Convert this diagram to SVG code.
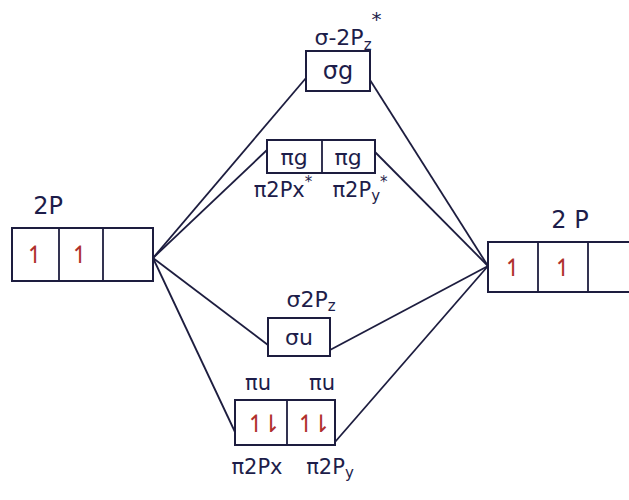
<svg xmlns="http://www.w3.org/2000/svg" width="629" height="500" viewBox="0 0 629 500">
<style>
.box{fill:none;stroke:#1d1d3f;stroke-width:2}
.ln{stroke:#1d1d3f;stroke-width:1.8;fill:none}
.t{font-family:"DejaVu Sans","Liberation Sans",sans-serif;fill:#1d1d4a;text-anchor:middle}
.e{font-family:"DejaVu Sans","Liberation Sans",sans-serif;fill:#b0302c;text-anchor:middle;font-size:24px}
.pr{letter-spacing:-5px}
</style>
<rect width="629" height="500" fill="#ffffff"/>
<g id="connectors">
<line class="ln" x1="153" y1="258" x2="306" y2="78"/>
<line class="ln" x1="153" y1="258" x2="267" y2="150"/>
<line class="ln" x1="153" y1="258" x2="268" y2="345"/>
<line class="ln" x1="153" y1="258" x2="235" y2="432"/>
<line class="ln" x1="370" y1="80" x2="488" y2="266"/>
<line class="ln" x1="375" y1="152" x2="488" y2="266"/>
<line class="ln" x1="330" y1="350" x2="488" y2="266"/>
<line class="ln" x1="335" y1="442" x2="488" y2="266"/>
</g>
<g id="left2p">
<rect class="box" x="12" y="228" width="141" height="53"/>
<line class="ln" x1="59" y1="228" x2="59" y2="281"/>
<line class="ln" x1="103" y1="228" x2="103" y2="281"/>
<text class="e" x="35" y="263">↿</text>
<text class="e" x="80" y="263">↿</text>
<text class="t" x="48" y="214" font-size="24">2P</text>
</g>
<g id="right2p">
<rect class="box" x="488" y="242" width="150" height="50"/>
<line class="ln" x1="538" y1="242" x2="538" y2="292"/>
<line class="ln" x1="588" y1="242" x2="588" y2="292"/>
<text class="e" x="513" y="276">↿</text>
<text class="e" x="563" y="276">↿</text>
<text class="t" x="570" y="228" font-size="24">2 P</text>
</g>
<g id="sigma-g">
<rect class="box" x="306" y="51" width="64" height="40"/>
<text class="t" x="338" y="79" font-size="24">σg</text>
<text class="t" x="348" y="45" font-size="22">σ-2P<tspan font-size="15" dy="5">z</tspan><tspan font-size="20" dy="-24">*</tspan></text>
</g>
<g id="pi-g">
<rect class="box" x="267" y="140" width="108" height="33"/>
<line class="ln" x1="322" y1="140" x2="322" y2="173"/>
<text class="t" x="294" y="165" font-size="22">πg</text>
<text class="t" x="348" y="165" font-size="22">πg</text>
<text class="t" x="283" y="197" font-size="21">π2Px<tspan font-size="15" dy="-10">*</tspan></text>
<text class="t" x="360" y="197" font-size="21">π2P<tspan font-size="15" dy="4">y</tspan><tspan font-size="15" dy="-14">*</tspan></text>
</g>
<g id="sigma-u">
<rect class="box" x="268" y="318" width="62" height="38"/>
<text class="t" x="299" y="345" font-size="22">σu</text>
<text class="t" x="311" y="307" font-size="22">σ2P<tspan font-size="15" dy="4">z</tspan></text>
</g>
<g id="pi-u">
<rect class="box" x="235" y="400" width="100" height="45"/>
<line class="ln" x1="287" y1="400" x2="287" y2="445"/>
<text class="e pr" x="261" y="432">↿⇂</text>
<text class="e pr" x="311" y="432">↿⇂</text>
<text class="t" x="258" y="390" font-size="21">πu</text>
<text class="t" x="322" y="390" font-size="21">πu</text>
<text class="t" x="257" y="474" font-size="21">π2Px</text>
<text class="t" x="330" y="474" font-size="21">π2P<tspan font-size="15" dy="4">y</tspan></text>
</g>
</svg>
